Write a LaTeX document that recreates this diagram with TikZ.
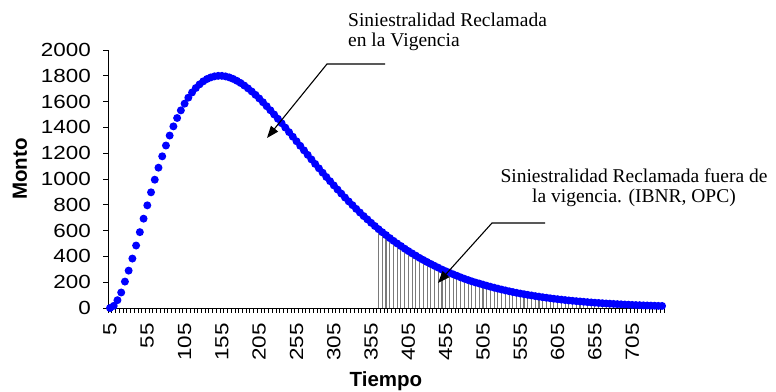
\documentclass[tikz,border=0pt]{standalone}
\usepackage{fontspec}
\setmainfont{Liberation Serif}
\setsansfont{Liberation Sans}
\usetikzlibrary{arrows.meta}
\definecolor{curve_blue}{HTML}{0000FF}
\definecolor{hatch_gray}{HTML}{7A7A7A}
\newcommand{\wnum}[1]{\scalebox{1.18}[1]{#1}}

\begin{document}
\begin{tikzpicture}[x=1pt,y=1pt,>={Triangle[length=12pt,width=9pt]},
    declare function={monto(\t)=((\t-5)/147)^1.95*exp(1.95*(1-(\t-5)/147))*1800;},
    ynum/.style={anchor=east,inner sep=0pt,font=\fontsize{19}{22}\selectfont\sffamily},
    xnum/.style={anchor=east,rotate=90,inner sep=0pt,font=\fontsize{19}{22}\selectfont\sffamily},
    axtitle/.style={inner sep=0pt,font=\fontsize{20.5}{24}\selectfont\sffamily\bfseries},
    note/.style={inner sep=0pt,font=\fontsize{19.5}{19.5}\selectfont}]
  \useasboundingbox (0,0) rectangle (776,391);
  % chart frame: Tiempo 0.746pt per unit, Monto 0.129pt per unit
  \begin{scope}[shift={(106.27,83)},x=0.746pt,y=0.129pt]
    \foreach \t in {365,370,...,745}
      \draw[hatch_gray,line width=1.1pt] (\t,0) -- (\t,{monto(\t)});
    \draw[line width=0.8pt] (2.5,2000) -- (2.5,0) -- (747.5,0);
    \foreach \m in {0,200,...,2000}{
      \draw[line width=0.8pt] (2.5,\m) -- ++(-5pt,0);
      \node[ynum] (m\m) at (-20.5,\m) {\wnum{\m}};
    }
    \foreach \i in {0,...,149}
      \draw[line width=0.8pt] ({\i*5+2.5},0) -- ++(0,-5pt);
    \foreach \t in {5,55,...,705}
      \node[xnum] (t\t) at (\t,-116) {\wnum{\t}};
    \foreach \t in {5,10,...,745}
      \fill[curve_blue] (\t,{monto(\t)}) circle[radius=4pt];
  \end{scope}
  \node[axtitle,rotate=90] (monto) at (20,222) {Monto};
  \node[axtitle,anchor=base] (tiempo) at (386,5) {Tiempo};
  % annotations
  \node[note,anchor=north west,align=left] (vig) at (348,378) {Siniestralidad Reclamada\\en la Vigencia};
  \node[note,anchor=north,align=center] (ibnr) at (634,222) {Siniestralidad Reclamada fuera de\\la vigencia. (IBNR, OPC)};
  \coordinate (vigS) at (385,327);
  \coordinate (vigK) at (327,327);
  \coordinate (vigT) at (267,253);
  \coordinate (ibnrS) at (545,168);
  \coordinate (ibnrK) at (492,168);
  \coordinate (ibnrT) at (438,108);
  \draw[->,line width=1.1pt] (vigS) -- (vigK) -- (vigT);
  \draw[->,line width=1.1pt] (ibnrS) -- (ibnrK) -- (ibnrT);
\end{tikzpicture}
\end{document}
